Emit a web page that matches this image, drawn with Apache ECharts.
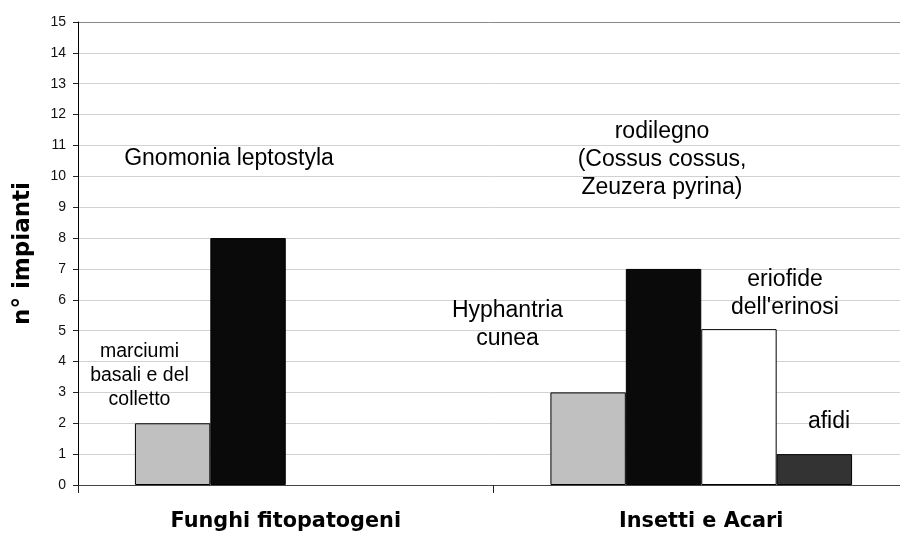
<!DOCTYPE html>
<html>
<head>
<meta charset="utf-8">
<title>n° impianti</title>
<script src="https://cdn.jsdelivr.net/npm/echarts@6/dist/echarts.min.js"></script>
<style>
  html, body { margin: 0; padding: 0; background: #fff; }
  #chart { width: 900px; height: 535px; }
</style>
</head>
<body>
<div id="chart"></div>
<script>
// Categories and values (n° impianti)
const categories = ['Funghi fitopatogeni', 'Insetti e Acari'];
const serie1 = [2, 3];        // marciumi basali e del colletto / Hyphantria cunea
const serie2 = [8, 7];        // Gnomonia leptostyla / rodilegno
const serie3 = [null, 5.05];  // eriofide dell'erinosi
const serie4 = [null, 1];     // afidi
const yTicks = { min: 0, max: 15, step: 1 };

// Bar name annotations: text, centre x, centre y, font size
const notes = [
  { text: 'Gnomonia leptostyla', x: 229, y: 159, size: 23 },
  { text: 'marciumi\nbasali e del\ncolletto', x: 139.5, y: 376, size: 19.5 },
  { text: 'rodilegno\n(Cossus cossus,\nZeuzera pyrina)', x: 662, y: 160, size: 23 },
  { text: 'Hyphantria\ncunea', x: 507.5, y: 325, size: 23 },
  { text: "eriofide\ndell'erinosi", x: 785, y: 294, size: 23 },
  { text: 'afidi', x: 829, y: 422, size: 23 }
];

const barBorder = { borderColor: '#000', borderWidth: 1 };
function barSeries(name, data, color) {
  return {
    name: name,
    type: 'bar',
    data: data,
    barGap: '0%',
    barCategoryGap: '27.4%',
    itemStyle: Object.assign({ color: color }, barBorder),
    emphasis: { disabled: true },
    animation: false
  };
}

// Grid lines: the top one (at 15) is the darker plot border
const gridColors = [];
for (let v = yTicks.min; v <= yTicks.max; v += yTicks.step) {
  gridColors.push(v === yTicks.max ? '#8a8a8a' : '#d2d2d2');
}

const chart = echarts.init(document.getElementById('chart'), null, { renderer: 'canvas' });
chart.setOption({
  backgroundColor: '#ffffff',
  animation: false,
  // the plot area runs slightly past the right edge of the canvas
  grid: { left: 78, top: 22, width: 831, height: 463, containLabel: false, outerBoundsMode: 'none' },
  xAxis: {
    type: 'category',
    data: categories,
    boundaryGap: true,
    axisLine: { show: true, lineStyle: { color: '#444', width: 1 } },
    axisTick: { show: true, alignWithLabel: false, interval: 0, length: 8, lineStyle: { color: '#222' } },
    axisLabel: {
      interval: 0,
      margin: 26,
      color: '#000',
      fontFamily: 'DejaVu Sans',
      fontWeight: 'bold',
      fontSize: 20.8
    },
    splitLine: { show: false }
  },
  yAxis: {
    type: 'value',
    min: yTicks.min,
    max: yTicks.max,
    interval: yTicks.step,
    name: 'n° impianti',
    nameLocation: 'middle',
    nameRotate: 90,
    nameGap: 43,
    nameTextStyle: { color: '#000', fontFamily: 'DejaVu Sans', fontWeight: 'bold', fontSize: 23 },
    axisLine: { show: true, lineStyle: { color: '#000', width: 1 } },
    axisTick: { show: true, length: 5, lineStyle: { color: '#222' } },
    axisLabel: { margin: 12, color: '#111', fontFamily: 'Liberation Sans', fontSize: 14 },
    splitLine: { show: true, lineStyle: { color: gridColors, width: 1 } }
  },
  series: [
    barSeries('Serie 1', serie1, '#c0c0c0'),
    barSeries('Serie 2', serie2, '#0a0a0a'),
    barSeries('Serie 3', serie3, '#ffffff'),
    barSeries('Serie 4', serie4, '#333333')
  ],
  graphic: notes.map(function (n) {
    return {
      type: 'text',
      x: n.x,
      y: n.y,
      silent: true,
      z: 10,
      style: {
        text: n.text,
        fill: '#000',
        font: n.size + 'px "Liberation Sans", Arial, sans-serif',
        lineHeight: Math.round(n.size * 1.21),
        textAlign: 'center',
        textVerticalAlign: 'middle'
      }
    };
  })
});
</script>
</body>
</html>
